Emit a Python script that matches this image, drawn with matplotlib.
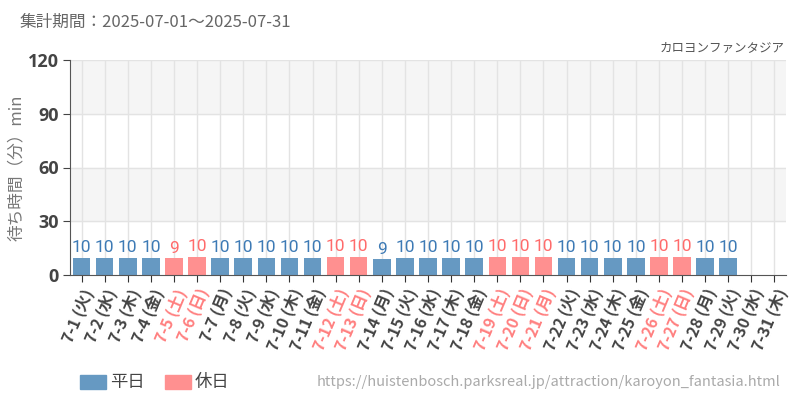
import numpy as np
import matplotlib.pyplot as plt

plt.rcParams['font.family'] = ['Noto Sans CJK JP', 'DejaVu Sans']

# DATA
days = [f'7-{d}' for d in range(1, 32)]
weekdays = ['火', '水', '木', '金', '土', '日', '月',
            '火', '水', '木', '金', '土', '日', '月',
            '火', '水', '木', '金', '土', '日', '月',
            '火', '水', '木', '金', '土', '日', '月',
            '火', '水', '木']
holiday = [0, 0, 0, 0, 1, 1, 0,
           0, 0, 0, 0, 1, 1, 0,
           0, 0, 0, 0, 1, 1, 1,
           0, 0, 0, 0, 1, 1, 0,
           0, 0, 0]
wait = [9.6, 9.6, 9.6, 9.6, 9.3, 10.2, 9.6,
        9.6, 9.6, 9.6, 9.6, 10.2, 10.2, 8.9,
        9.6, 9.6, 9.6, 9.6, 10.2, 10.2, 10.2,
        9.6, 9.6, 9.6, 9.6, 10.2, 10.2, 9.6,
        9.6, np.nan, np.nan]

C_WD, C_HD = '#6699c2', '#ff9090'
T_WD, T_HD = '#3d7ab5', '#ff6b6b'

fig = plt.figure(figsize=(8, 4), dpi=100)
ax = fig.add_axes([0.0875, 0.3125, 0.895, 0.5375])

x = np.arange(len(days))
for lo in (30, 90):
    ax.axhspan(lo, lo + 30, color='#f5f5f5', zorder=0)
for i in x:
    ax.axvline(i, color='#e3e3e3', lw=1, zorder=1)
for yv in (30, 60, 90, 120):
    ax.axhline(yv, color='#e3e3e3', lw=1, zorder=1)

cols = [C_HD if h else C_WD for h in holiday]
ax.bar(x, wait, width=0.76, color=cols, zorder=2)
for i, v in enumerate(wait):
    if np.isnan(v):
        continue
    ax.text(i, v + 1.3, f'{round(v)}', ha='center', va='bottom',
            color=T_HD if holiday[i] else T_WD, fontsize=12.5,
            family='Roboto', zorder=3)

ax.set_xlim(-0.5, len(days) - 0.5)
ax.set_ylim(0, 120)
ax.set_yticks([0, 30, 60, 90, 120])
ax.tick_params(axis='y', labelsize=13, colors='#444444', length=5, pad=3)
for lb in ax.get_yticklabels():
    lb.set_fontweight('bold')
    lb.set_family('Open Sans')
ax.set_xticks(x)
ax.set_xticklabels([f'{d} ({w})' for d, w in zip(days, weekdays)],
                   rotation=67, ha='right', rotation_mode='anchor',
                   fontsize=11.5, fontweight='bold')
ax.tick_params(axis='x', length=5, color='#333333', pad=3)
for lb, h in zip(ax.get_xticklabels(), holiday):
    lb.set_color('#ff8080' if h else '#444444')

for s in ('top', 'right'):
    ax.spines[s].set_visible(False)
for s in ('left', 'bottom'):
    ax.spines[s].set_color('#555555')

ax.set_ylabel('待ち時間（分）min', color='#777777', fontsize=12, labelpad=2)

fig.text(0.025, 0.945, '集計期間：2025-07-01～2025-07-31', color='#666666',
         fontsize=12, va='center')
fig.text(0.981, 0.88, 'カロヨンファンタジア', color='#555555', fontsize=9,
         ha='right', va='center')
fig.text(0.975, 0.045, 'https://huistenbosch.parksreal.jp/attraction/karoyon_fantasia.html',
         color='#aaaaaa', fontsize=10.5, ha='right', va='center')

# legend
for xp, c, lab in ((0.1, C_WD, '平日'), (0.206, C_HD, '休日')):
    fig.patches.append(plt.Rectangle((xp, 0.028), 0.0325, 0.035, color=c,
                                     transform=fig.transFigure))
    fig.text(xp + 0.0375, 0.045, lab, color='#444444', fontsize=12.5, va='center')

fig.savefig('out.png')
